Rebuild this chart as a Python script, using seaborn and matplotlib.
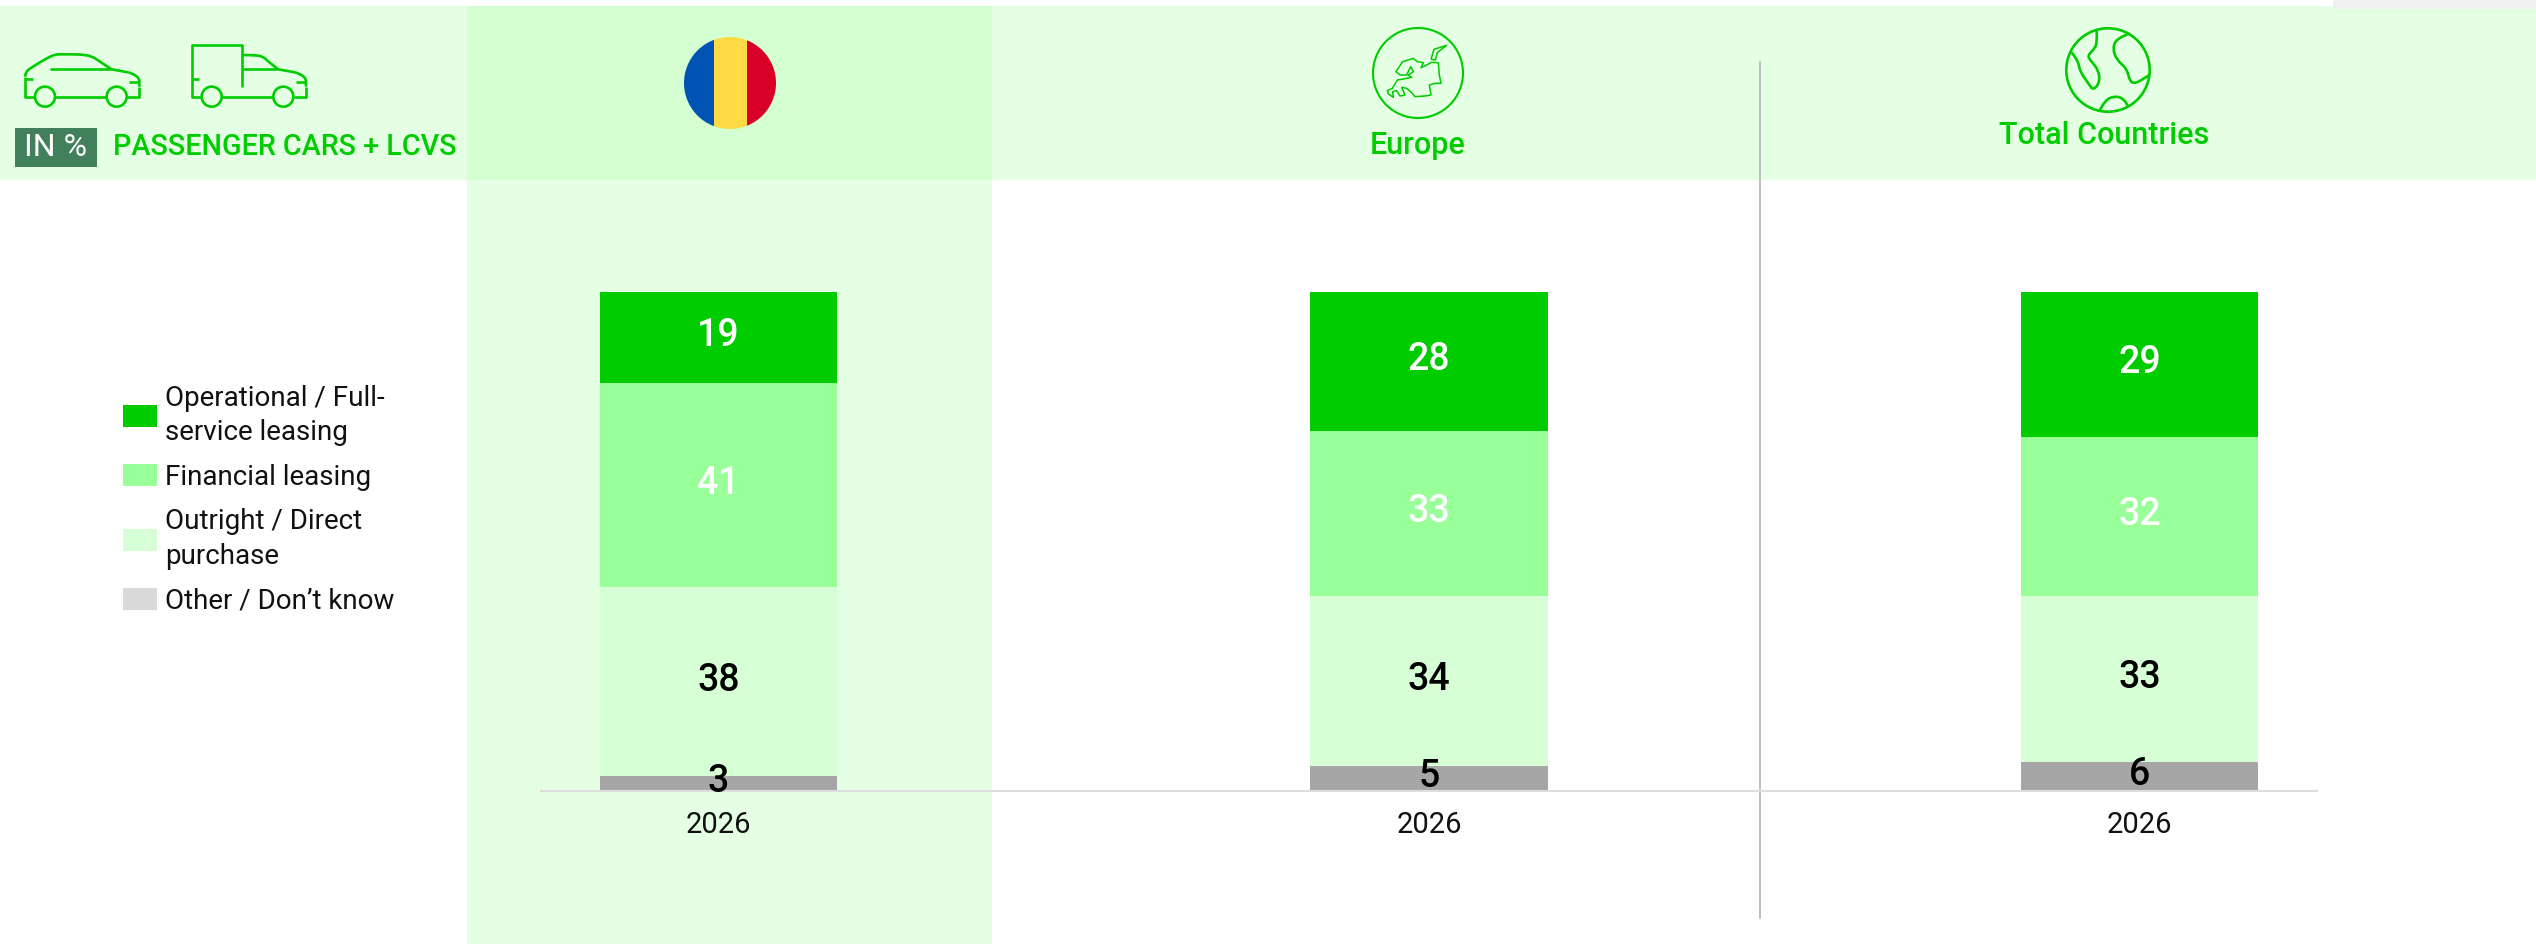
import matplotlib
matplotlib.use("Agg")
import matplotlib.pyplot as plt
import pandas as pd
import seaborn as sns
from matplotlib.patches import Circle, Patch, PathPatch, Rectangle
from matplotlib.path import Path

# --- Data ---
regions = ["Romania", "Europe", "Total Countries"]
years = ["2026", "2026", "2026"]
categories = ["Operational / Full-\nservice leasing", "Financial leasing",
              "Outright / Direct\npurchase", "Other / Don\u2019t know"]
# bar heights as measured, the printed labels are the rounded figures of the source
operational = [18.3, 27.9, 29.1]
financial = [40.9, 33.1, 31.9]
outright = [37.9, 34.1, 33.2]
other = [2.9, 4.9, 5.8]
operational_labels = ["19", "28", "29"]
financial_labels = ["41", "33", "32"]
outright_labels = ["38", "34", "33"]
other_labels = ["3", "5", "6"]

# --- Style ---
W, H = 2536, 944
GREEN = "#00CC00"
BAND = "#E4FFE4"
HILITE = "#D3FFD3"
bar_colors = [GREEN, "#99FF99", "#D6FFD6", "#A6A6A6"]
legend_colors = [GREEN, "#99FF99", "#D6FFD6", "#D9D9D9"]
label_colors = ["white", "white", "black", "black"]

sns.set_theme(style="white")
plt.rcParams["font.family"] = ["Roboto", "DejaVu Sans"]

fig = plt.figure(figsize=(W / 100, H / 100), dpi=100, facecolor="white")

# --- Background, header and icons, drawn in pixel coordinates ---
bg = fig.add_axes([0, 0, 1, 1], zorder=0)
bg.set_xlim(0, W)
bg.set_ylim(H, 0)
bg.axis("off")

bg.add_patch(Rectangle((0, 6), W, 174, fc=BAND, lw=0))
bg.add_patch(Rectangle((467, 180), 525, H - 180, fc=BAND, lw=0))
bg.add_patch(Rectangle((467, 6), 525, 174, fc=HILITE, lw=0))
bg.add_patch(Rectangle((2333, 0), W - 2333, 9, fc="#F0F0F0", lw=0))
bg.plot([1760, 1760], [62, 918], color="#BFBFBF", lw=1.4)


def smooth_path(pts):
    verts = [pts[0]]
    codes = [Path.MOVETO]
    for i in range(1, len(pts) - 1):
        mid = ((pts[i][0] + pts[i + 1][0]) / 2, (pts[i][1] + pts[i + 1][1]) / 2)
        verts += [pts[i], mid]
        codes += [Path.CURVE3, Path.CURVE3]
    verts.append(pts[-1])
    codes.append(Path.LINETO)
    return Path(verts, codes)


def icon_line(pts, ox, oy, lw=1.9, smooth=False):
    p = [(ox + x / 3, oy + y / 3) for x, y in pts]
    path = smooth_path(p) if smooth else Path(p)
    bg.add_patch(PathPatch(path, fc="none", ec=GREEN, lw=lw, capstyle="butt", joinstyle="round"))


def wheel(x, y, r, ox, oy):
    bg.add_patch(Circle((ox + x / 3, oy + y / 3), r / 3, fc="none", ec=GREEN, lw=1.9))


# car
icon_line([(75, 200), (45, 200), (45, 140)], 10, 30)
icon_line([(45, 140), (47, 125), (65, 112), (110, 85), (135, 73), (160, 73), (210, 73),
           (245, 78), (270, 95), (305, 118)], 10, 30, smooth=True)
icon_line([(305, 118), (355, 127)], 10, 30)
icon_line([(355, 127), (388, 137), (388, 170)], 10, 30, smooth=True)
icon_line([(388, 170), (388, 200), (352, 200)], 10, 30)
icon_line([(135, 200), (290, 200)], 10, 30)
icon_line([(120, 118), (305, 118)], 10, 30)
icon_line([(45, 148), (68, 148)], 10, 30)
icon_line([(358, 157), (388, 157)], 10, 30)
wheel(105, 200, 30, 10, 30)
wheel(320, 200, 30, 10, 30)

# van
icon_line([(575, 200), (545, 200), (545, 45), (695, 45), (695, 170)], 10, 30)
icon_line([(695, 75), (735, 75), (760, 80), (775, 95), (805, 118)], 10, 30, smooth=True)
icon_line([(805, 118), (855, 127)], 10, 30)
icon_line([(855, 127), (888, 137), (888, 170)], 10, 30, smooth=True)
icon_line([(888, 170), (888, 200), (852, 200)], 10, 30)
icon_line([(695, 118), (805, 118)], 10, 30)
icon_line([(635, 200), (790, 200)], 10, 30)
icon_line([(545, 148), (568, 148)], 10, 30)
icon_line([(858, 157), (888, 157)], 10, 30)
wheel(605, 200, 30, 10, 30)
wheel(820, 200, 30, 10, 30)

# flag
flag = Circle((730, 83), 46, transform=bg.transData)
for x0, x1, c in [(684, 714, "#0052B4"), (714, 747, "#FFDA44"), (747, 776, "#D80027")]:
    stripe = Rectangle((x0, 37), x1 - x0, 92, fc=c, lw=0)
    bg.add_patch(stripe)
    stripe.set_clip_path(flag)

# europe globe
bg.add_patch(Circle((1418, 73), 45, fc="none", ec=GREEN, lw=1.5))
icon_line([(213, 118), (222, 88), (260, 76), (232, 98), (226, 120), (213, 118)], 1360, 20, lw=1.1)
icon_line([(235, 128), (238, 165), (243, 190), (225, 190), (208, 195), (213, 225), (195, 228), (165, 230),
           (155, 218), (140, 205), (125, 202), (135, 225), (120, 228), (110, 212), (98, 215), (100, 232),
           (85, 222), (82, 212), (97, 205), (112, 180), (125, 178), (155, 172), (145, 165), (160, 155),
           (152, 140), (140, 165), (120, 165), (108, 155), (128, 125), (160, 115), (172, 125),
           (190, 128), (183, 143), (200, 135), (215, 127), (235, 128)], 1360, 20, lw=1.1)

# world globe
bg.add_patch(Circle((2108, 70), 41.7, fc="none", ec=GREEN, lw=1.9))
icon_line([(110, 32), (112, 70), (100, 90), (82, 108), (95, 125), (115, 150), (120, 185), (100, 212),
           (85, 190), (60, 155), (55, 125), (35, 97)], 2060, 20, smooth=True)
icon_line([(205, 42), (170, 55), (158, 85), (170, 120), (200, 145), (210, 185), (225, 190), (245, 180),
           (268, 165)], 2060, 20, smooth=True)
icon_line([(120, 270), (135, 240), (165, 228), (190, 235), (205, 260)], 2060, 20, smooth=True)

# header texts
bg.add_patch(Rectangle((15, 128), 82, 39, fc="#41805A", lw=0))
bg.text(56, 147, "IN %", color="white", fontsize=23, ha="center", va="center")
bg.text(113, 147, "PASSENGER CARS + LCVS", color=GREEN, fontsize=20.7, fontweight="medium",
        ha="left", va="center")
bg.text(1418, 146, "Europe", color=GREEN, fontsize=22, fontweight="medium", ha="center", va="center")
bg.text(2104, 136, "Total Countries", color=GREEN, fontsize=22, fontweight="medium", ha="center", va="center")

# --- Stacked bars ---
ax = fig.add_axes([541 / W, (H - 790.5) / H, (2317 - 541) / W, 499 / H], zorder=1)
ax.patch.set_alpha(0)

series = [other, outright, financial, operational]
series_labels = [other_labels, outright_labels, financial_labels, operational_labels]
colors = bar_colors[::-1]
text_colors = label_colors[::-1]
bottoms = [0, 0, 0]
for values, labels, color, text_color in zip(series, series_labels, colors, text_colors):
    df = pd.DataFrame({"region": regions, "share": values})
    sns.barplot(data=df, x="region", y="share", order=regions, color=color, saturation=1,
                width=0.334, bottom=bottoms, linewidth=0, ax=ax)
    for i, (v, b, lab) in enumerate(zip(values, bottoms, labels)):
        ax.annotate(lab, (i, b + v / 2), xytext=(0, 1), textcoords="offset points",
                    ha="center", va="center", color=text_color, fontsize=27, fontweight="medium",
                    annotation_clip=False)
    bottoms = [b + v for b, v in zip(bottoms, values)]

ax.set_xlim(-0.25, 2.25)
ax.set_ylim(0, 100)
ax.set_xlabel("")
ax.set_ylabel("")
ax.set_yticks([])
ax.set_xticks(range(3))
ax.set_xticklabels(years, fontsize=21, color="#111111")
ax.tick_params(axis="x", length=0, pad=15)
sns.despine(ax=ax, left=True)
ax.spines["bottom"].set_color("#DDDDDD")
ax.spines["bottom"].set_linewidth(1.5)

# --- Legend ---
handles = [Patch(fc=c, lw=0) for c in legend_colors]
fs = 20
fs_px = fs * 100 / 72
leg = fig.legend(handles, categories, loc="upper left", bbox_to_anchor=(123 / W, 1 - 384.5 / H),
                 frameon=False, handlelength=34 / fs_px, handleheight=24 / fs_px,
                 handletextpad=8 / fs_px, labelspacing=0.635, borderpad=0, borderaxespad=0,
                 labelcolor="#111111", prop={"size": fs})
for t in leg.get_texts():
    t.set_linespacing(1.36)

fig.savefig("out.png", dpi=100)
